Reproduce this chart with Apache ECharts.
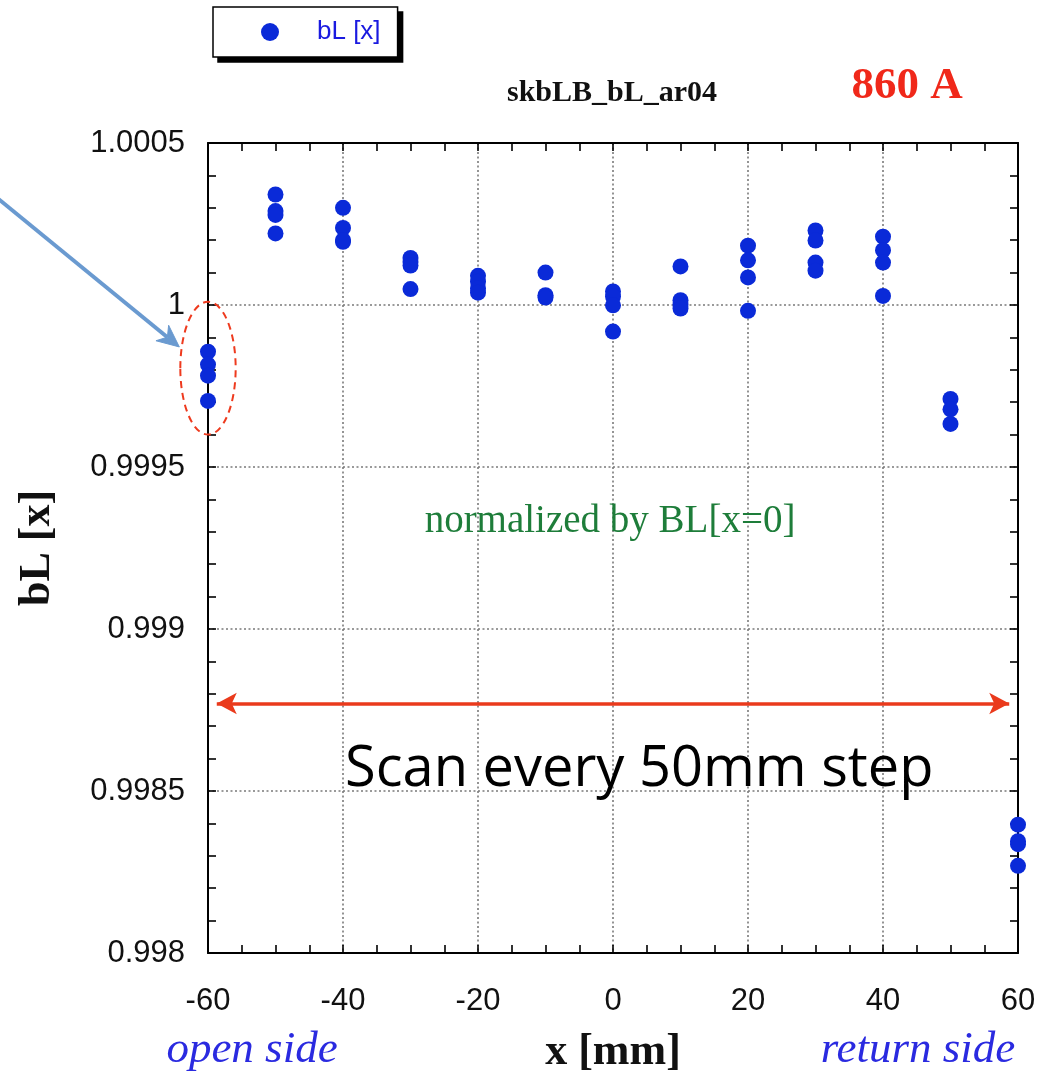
<!DOCTYPE html>
<html>
<head>
<meta charset="utf-8">
<script src="https://cdn.jsdelivr.net/npm/echarts@6/dist/echarts.min.js"></script>
<style>
  html, body { margin: 0; padding: 0; background: #fff; }
  #chart { width: 1043px; height: 1078px; }
</style>
</head>
<body>
<div id="chart"></div>
<script>
// Scan positions across the gap (mm)
const xPositions = [-60, -50, -40, -30, -20, -10, 0, 10, 20, 30, 40, 50, 60];

// Normalised integrated field bL at each scan position (repeated runs)
const bLValues = [
  [0.999856, 0.999816, 0.999782, 0.999704],
  [1.000341, 1.000290, 1.000278, 1.000221],
  [1.000300, 1.000238, 1.000195, 1.000200],
  [1.000145, 1.000133, 1.000122, 1.000049],
  [1.000090, 1.000072, 1.000052, 1.000038],
  [1.000100, 1.000030, 1.000023],
  [1.000042, 1.000026, 0.999999, 0.999918],
  [1.000119, 1.000015, 1.000001, 0.999989],
  [1.000183, 1.000138, 1.000085, 0.999982],
  [1.000230, 1.000199, 1.000131, 1.000106],
  [1.000211, 1.000169, 1.000131, 1.000028],
  [0.999710, 0.999678, 0.999633],
  [0.998396, 0.998345, 0.998336, 0.998269]
];

const seriesName = 'bL [x]';
const xRange = [-60, 60];
const yRange = [0.998, 1.0005];
const xStep = 20;
const yStep = 0.0005;

// Highlighted group at the open side and the scan span arrow (data units)
const highlightX = -60;
const highlightSpan = [0.99960, 1.00001];
const scanSpan = [-58.7, 58.7];
const scanLevel = 0.99877;

const points = [];
xPositions.forEach((x, i) => bLValues[i].forEach(v => points.push([x, v])));

const chart = echarts.init(document.getElementById('chart'), null, { renderer: 'canvas' });

const tickLabelStyle = {
  fontFamily: '"Liberation Sans", Arial, sans-serif',
  fontSize: 31,
  color: '#111'
};
const serif = '"Liberation Serif", "Times New Roman", serif';
const axisNameStyle = { fontFamily: serif, fontWeight: 'bold', fontSize: 44, color: '#111' };

const axisFrame = { show: true, onZero: false, lineStyle: { color: '#000', width: 2 } };
const innerTick = { show: true, inside: true, length: 8, lineStyle: { color: '#000', width: 1.6 } };
const innerMinor = { show: true, length: 8, lineStyle: { color: '#000', width: 1.6 } };
const dotted = { show: true, lineStyle: { color: '#7a7a7a', width: 1.6, type: [2, 2.5] } };

const fmt = v => String(+Number(v).toFixed(4));

chart.setOption({
  animation: false,
  backgroundColor: '#fff',
  grid: { left: 208, right: 25, top: 143, bottom: 125, containLabel: false, outerBoundsMode: 'none' },
  legend: {
    data: [seriesName],
    left: 213,
    top: 7,
    orient: 'horizontal',
    padding: [12, 17, 12, 48],
    backgroundColor: '#fff',
    borderColor: '#000',
    borderWidth: 1.5,
    borderRadius: 0,
    icon: 'circle',
    itemWidth: 18,
    itemHeight: 18,
    textStyle: {
      fontFamily: '"Liberation Sans", Arial, sans-serif',
      fontSize: 26,
      lineHeight: 26,
      color: '#1a1ae0',
      padding: [0, 0, 0, 33]
    },
    selectedMode: false,
    z: 6
  },
  xAxis: [
    {
      type: 'value', min: xRange[0], max: xRange[1], interval: xStep,
      position: 'bottom',
      name: 'x [mm]', nameLocation: 'middle', nameGap: 78,
      nameTextStyle: axisNameStyle,
      axisLine: axisFrame, axisTick: innerTick,
      minorTick: Object.assign({ splitNumber: 4 }, innerMinor),
      axisLabel: Object.assign({ margin: 33, formatter: fmt }, tickLabelStyle),
      splitLine: dotted
    },
    {
      type: 'value', min: xRange[0], max: xRange[1], interval: xStep,
      position: 'top',
      axisLine: axisFrame, axisTick: innerTick,
      minorTick: Object.assign({ splitNumber: 4 }, innerMinor),
      axisLabel: { show: false }, splitLine: { show: false }
    }
  ],
  yAxis: [
    {
      type: 'value', min: yRange[0], max: yRange[1], interval: yStep,
      position: 'left',
      name: 'bL [x]', nameLocation: 'middle', nameGap: 148, nameRotate: 90,
      nameTextStyle: axisNameStyle,
      axisLine: axisFrame, axisTick: innerTick,
      minorTick: Object.assign({ splitNumber: 5 }, innerMinor),
      axisLabel: Object.assign({ margin: 23, formatter: fmt }, tickLabelStyle),
      splitLine: dotted
    },
    {
      type: 'value', min: yRange[0], max: yRange[1], interval: yStep,
      position: 'right',
      axisLine: axisFrame, axisTick: innerTick,
      minorTick: Object.assign({ splitNumber: 5 }, innerMinor),
      axisLabel: { show: false }, splitLine: { show: false }
    }
  ],
  series: [
    {
      name: seriesName,
      type: 'scatter',
      xAxisIndex: 0,
      yAxisIndex: 0,
      symbol: 'circle',
      symbolSize: 16,
      itemStyle: { color: '#0a2ad8', opacity: 1 },
      data: points,
      z: 5,
      markLine: {
        silent: true,
        symbol: ['arrow', 'arrow'],
        symbolSize: [16, 20],
        label: { show: false },
        lineStyle: { color: '#ea3a1c', width: 3.5, type: 'solid', opacity: 1 },
        data: [[{ coord: [scanSpan[0], scanLevel] }, { coord: [scanSpan[1], scanLevel] }]]
      }
    }
  ]
});

// Annotations placed from data coordinates
const toPx = p => chart.convertToPixel({ xAxisIndex: 0, yAxisIndex: 0 }, p);
const topPx = toPx([highlightX, highlightSpan[1]]);
const botPx = toPx([highlightX, highlightSpan[0]]);
const sidePx = toPx([highlightX + 4.1, highlightSpan[0]]);
const cx = topPx[0];
const cy = (topPx[1] + botPx[1]) / 2;
const rx = sidePx[0] - cx;
const ry = (botPx[1] - topPx[1]) / 2;

const tip = [cx - rx - 1, cy - 0.32 * ry];
const tail = [-4, 197];
const dx = tip[0] - tail[0], dy = tip[1] - tail[1];
const len = Math.hypot(dx, dy);
const ux = dx / len, uy = dy / len;
const headLen = 22, headHalf = 10;
const base = [tip[0] - ux * headLen, tip[1] - uy * headLen];
const wing1 = [base[0] - uy * headHalf, base[1] + ux * headHalf];
const wing2 = [base[0] + uy * headHalf, base[1] - ux * headHalf];
const notch = [tip[0] - ux * headLen * 0.7, tip[1] - uy * headLen * 0.7];

// Legend box drop shadow, sized from the rendered legend
const legendView = chart.getViewOfComponentModel(chart.getModel().getComponent('legend'));
const legendRect = legendView.group.getBoundingRect();
const lx = legendView.group.x + legendRect.x;
const ly = legendView.group.y + legendRect.y;

chart.setOption({
  graphic: [
    {
      type: 'rect',
      shape: { x: lx + 5, y: ly + 5, width: legendRect.width, height: legendRect.height },
      style: { fill: '#000' },
      z: 1
    },
    {
      type: 'ellipse',
      shape: { cx: cx, cy: cy, rx: rx, ry: ry },
      style: { fill: null, stroke: '#ee3a1e', lineWidth: 2, lineDash: [7, 5] },
      z: 10
    },
    {
      type: 'line',
      shape: { x1: tail[0], y1: tail[1], x2: notch[0], y2: notch[1] },
      style: { stroke: '#6a9ad0', lineWidth: 4 },
      z: 10
    },
    {
      type: 'polygon',
      shape: { points: [tip, wing1, notch, wing2] },
      style: { fill: '#6a9ad0', stroke: '#6a9ad0', lineWidth: 1 },
      z: 10
    },
    {
      type: 'text',
      style: { text: 'skbLB_bL_ar04', x: 612, y: 93, align: 'center', verticalAlign: 'middle',
               font: 'bold 30px ' + serif, fill: '#111' },
      z: 10
    },
    {
      type: 'text',
      style: { text: '860 A', x: 907, y: 86, align: 'center', verticalAlign: 'middle',
               font: 'bold 45px ' + serif, fill: '#f0281a' },
      z: 10
    },
    {
      type: 'text',
      style: { text: 'normalized by BL[x=0]', x: 610, y: 522, align: 'center', verticalAlign: 'middle',
               font: '39px ' + serif, fill: '#1e7d3a' },
      z: 10
    },
    {
      type: 'text',
      style: { text: 'Scan every 50mm step', x: 345, y: 770, align: 'left', verticalAlign: 'middle',
               font: '56px "Open Sans", "Liberation Sans", sans-serif', fill: '#000' },
      z: 10
    },
    {
      type: 'text',
      style: { text: 'open side', x: 252, y: 1050, align: 'center', verticalAlign: 'middle',
               font: 'italic 45px ' + serif, fill: '#2a2ae0' },
      z: 10
    },
    {
      type: 'text',
      style: { text: 'return side', x: 918, y: 1050, align: 'center', verticalAlign: 'middle',
               font: 'italic 45px ' + serif, fill: '#2a2ae0' },
      z: 10
    }
  ]
});
</script>
</body>
</html>
